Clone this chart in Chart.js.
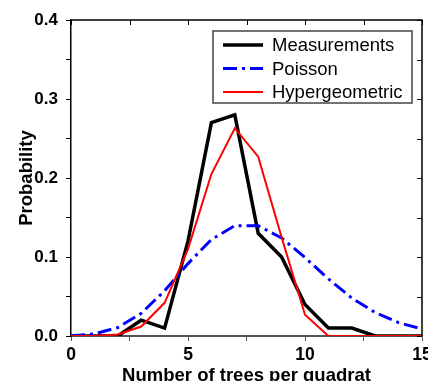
<!DOCTYPE html>
<html>
<head>
<meta charset="utf-8">
<script src="https://cdn.jsdelivr.net/npm/chart.js@4.4.1/dist/chart.umd.min.js"></script>
<style>
  html, body { margin: 0; padding: 0; background: #fff; }
  #wrap { width: 428px; height: 381px; position: relative; }
</style>
</head>
<body>
<div id="wrap"><canvas id="treeChart"></canvas></div>
<script>
// trees per quadrat and the probability of each count
const treeCounts = [0, 1, 2, 3, 4, 5, 6, 7, 8, 9, 10, 11, 12, 13, 14, 15];
const measured = [0, 0, 0, 0.02, 0.01, 0.12, 0.27, 0.28, 0.13, 0.10, 0.04, 0.01, 0.01, 0, 0, 0];
const poisson = [0.0003, 0.0027, 0.0107, 0.0286, 0.0573, 0.0916, 0.1221, 0.1396, 0.1396, 0.1241, 0.0993, 0.0722, 0.0481, 0.0296, 0.0169, 0.0090];
const hypergeometric = [0, 0, 0.002, 0.012, 0.042, 0.11, 0.205, 0.263, 0.227, 0.125, 0.027, 0, 0, 0, 0, 0];
const seriesNames = ['Measurements', 'Poisson', 'Hypergeometric'];

const fontFamily = "'Liberation Sans', Arial, sans-serif";
const poissonDash = [14, 5, 3, 5];

function points(values) {
  return treeCounts.map((c, i) => ({ x: c, y: values[i] }));
}

// closed frame: top and right edges with inward ticks
const framePlugin = {
  id: 'frame',
  afterDraw(chart) {
    const { ctx, chartArea: a, scales } = chart;
    ctx.save();
    ctx.strokeStyle = '#000';
    ctx.lineWidth = 1.5;
    ctx.beginPath();
    ctx.moveTo(a.left, a.top);
    ctx.lineTo(a.right, a.top);
    ctx.lineTo(a.right, a.bottom);
    ctx.stroke();
    ctx.lineWidth = 1;
    ctx.beginPath();
    scales.x.ticks.forEach(t => {
      const px = Math.round(scales.x.getPixelForValue(t.value)) + 0.5;
      ctx.moveTo(px, a.top);
      ctx.lineTo(px, a.top + 5);
    });
    scales.y.ticks.forEach(t => {
      const py = Math.round(scales.y.getPixelForValue(t.value)) + 0.5;
      ctx.moveTo(a.right, py);
      ctx.lineTo(a.right - 5, py);
    });
    ctx.stroke();
    ctx.restore();
  }
};

// boxed legend in the upper right of the plot
const boxLegendPlugin = {
  id: 'boxLegend',
  afterDraw(chart) {
    const { ctx } = chart;
    const x0 = 213, y0 = 31, w = 199, h = 72;
    ctx.save();
    ctx.fillStyle = '#fff';
    ctx.fillRect(x0, y0, w, h);
    ctx.strokeStyle = '#444';
    ctx.lineWidth = 1.5;
    ctx.strokeRect(x0, y0, w, h);
    ctx.font = '18.5px ' + fontFamily;
    ctx.textBaseline = 'middle';
    chart.data.datasets.forEach((ds, i) => {
      const y = y0 + 14 + i * 23.5;
      ctx.strokeStyle = ds.borderColor;
      ctx.lineWidth = ds.borderWidth;
      ctx.setLineDash(ds.borderDash || []);
      ctx.beginPath();
      ctx.moveTo(x0 + 10, y);
      ctx.lineTo(x0 + 50, y);
      ctx.stroke();
      ctx.setLineDash([]);
      ctx.fillStyle = '#000';
      ctx.fillText(ds.label, x0 + 59, y + 1);
    });
    ctx.restore();
  }
};

new Chart(document.getElementById('treeChart'), {
  type: 'line',
  data: {
    datasets: [
      {
        label: seriesNames[0],
        data: points(measured),
        borderColor: '#000',
        borderWidth: 3.5,
        order: 2
      },
      {
        label: seriesNames[1],
        data: points(poisson),
        borderColor: '#0000ff',
        borderWidth: 3,
        borderDash: poissonDash,
        order: 1
      },
      {
        label: seriesNames[2],
        data: points(hypergeometric),
        borderColor: '#ff0000',
        borderWidth: 2,
        order: 0
      }
    ]
  },
  options: {
    responsive: true,
    maintainAspectRatio: false,
    animation: false,
    layout: { padding: { top: 20, right: 6, bottom: 0, left: 0 } },
    elements: {
      point: { radius: 0 },
      line: { tension: 0, fill: false, borderJoinStyle: 'miter' }
    },
    plugins: {
      legend: { display: false },
      tooltip: { enabled: false }
    },
    scales: {
      x: {
        type: 'linear',
        min: 0,
        max: 15,
        afterFit(scale) {
          scale.height = 45;
          scale.paddingLeft = 0;
          scale.paddingRight = 0;
        },
        border: { display: true, color: '#555', width: 2 },
        grid: { drawOnChartArea: false, drawTicks: true, tickLength: 5, color: '#555', lineWidth: 1 },
        ticks: {
          stepSize: 2.5,
          autoSkip: false,
          maxRotation: 0,
          padding: 4,
          color: '#000',
          font: { family: fontFamily, size: 17.5, weight: 'bold' },
          callback: v => (v % 5 === 0 ? String(v) : '')
        },
        title: {
          display: true,
          text: 'Number of trees per quadrat',
          color: '#000',
          font: { family: fontFamily, size: 18.5, weight: 'bold', lineHeight: 1 },
          padding: { top: 0, bottom: -4 }
        }
      },
      y: {
        min: 0,
        max: 0.4,
        afterFit(scale) {
          scale.width = 71;
        },
        border: { display: true, color: '#000', width: 1.5 },
        grid: { drawOnChartArea: false, drawTicks: true, tickLength: 5, color: '#000', lineWidth: 1 },
        ticks: {
          stepSize: 0.05,
          autoSkip: false,
          padding: 8,
          color: '#000',
          font: { family: fontFamily, size: 17, weight: 'bold' },
          callback: v => {
            const tenths = Math.round(v * 100);
            return tenths % 10 === 0 ? (tenths / 100).toFixed(1) : '';
          }
        },
        title: {
          display: true,
          text: 'Probability',
          color: '#000',
          font: { family: fontFamily, size: 18.5, weight: 'bold', lineHeight: 1 },
          padding: { top: 18, bottom: 0 }
        }
      }
    }
  },
  plugins: [framePlugin, boxLegendPlugin]
});
</script>
</body>
</html>
